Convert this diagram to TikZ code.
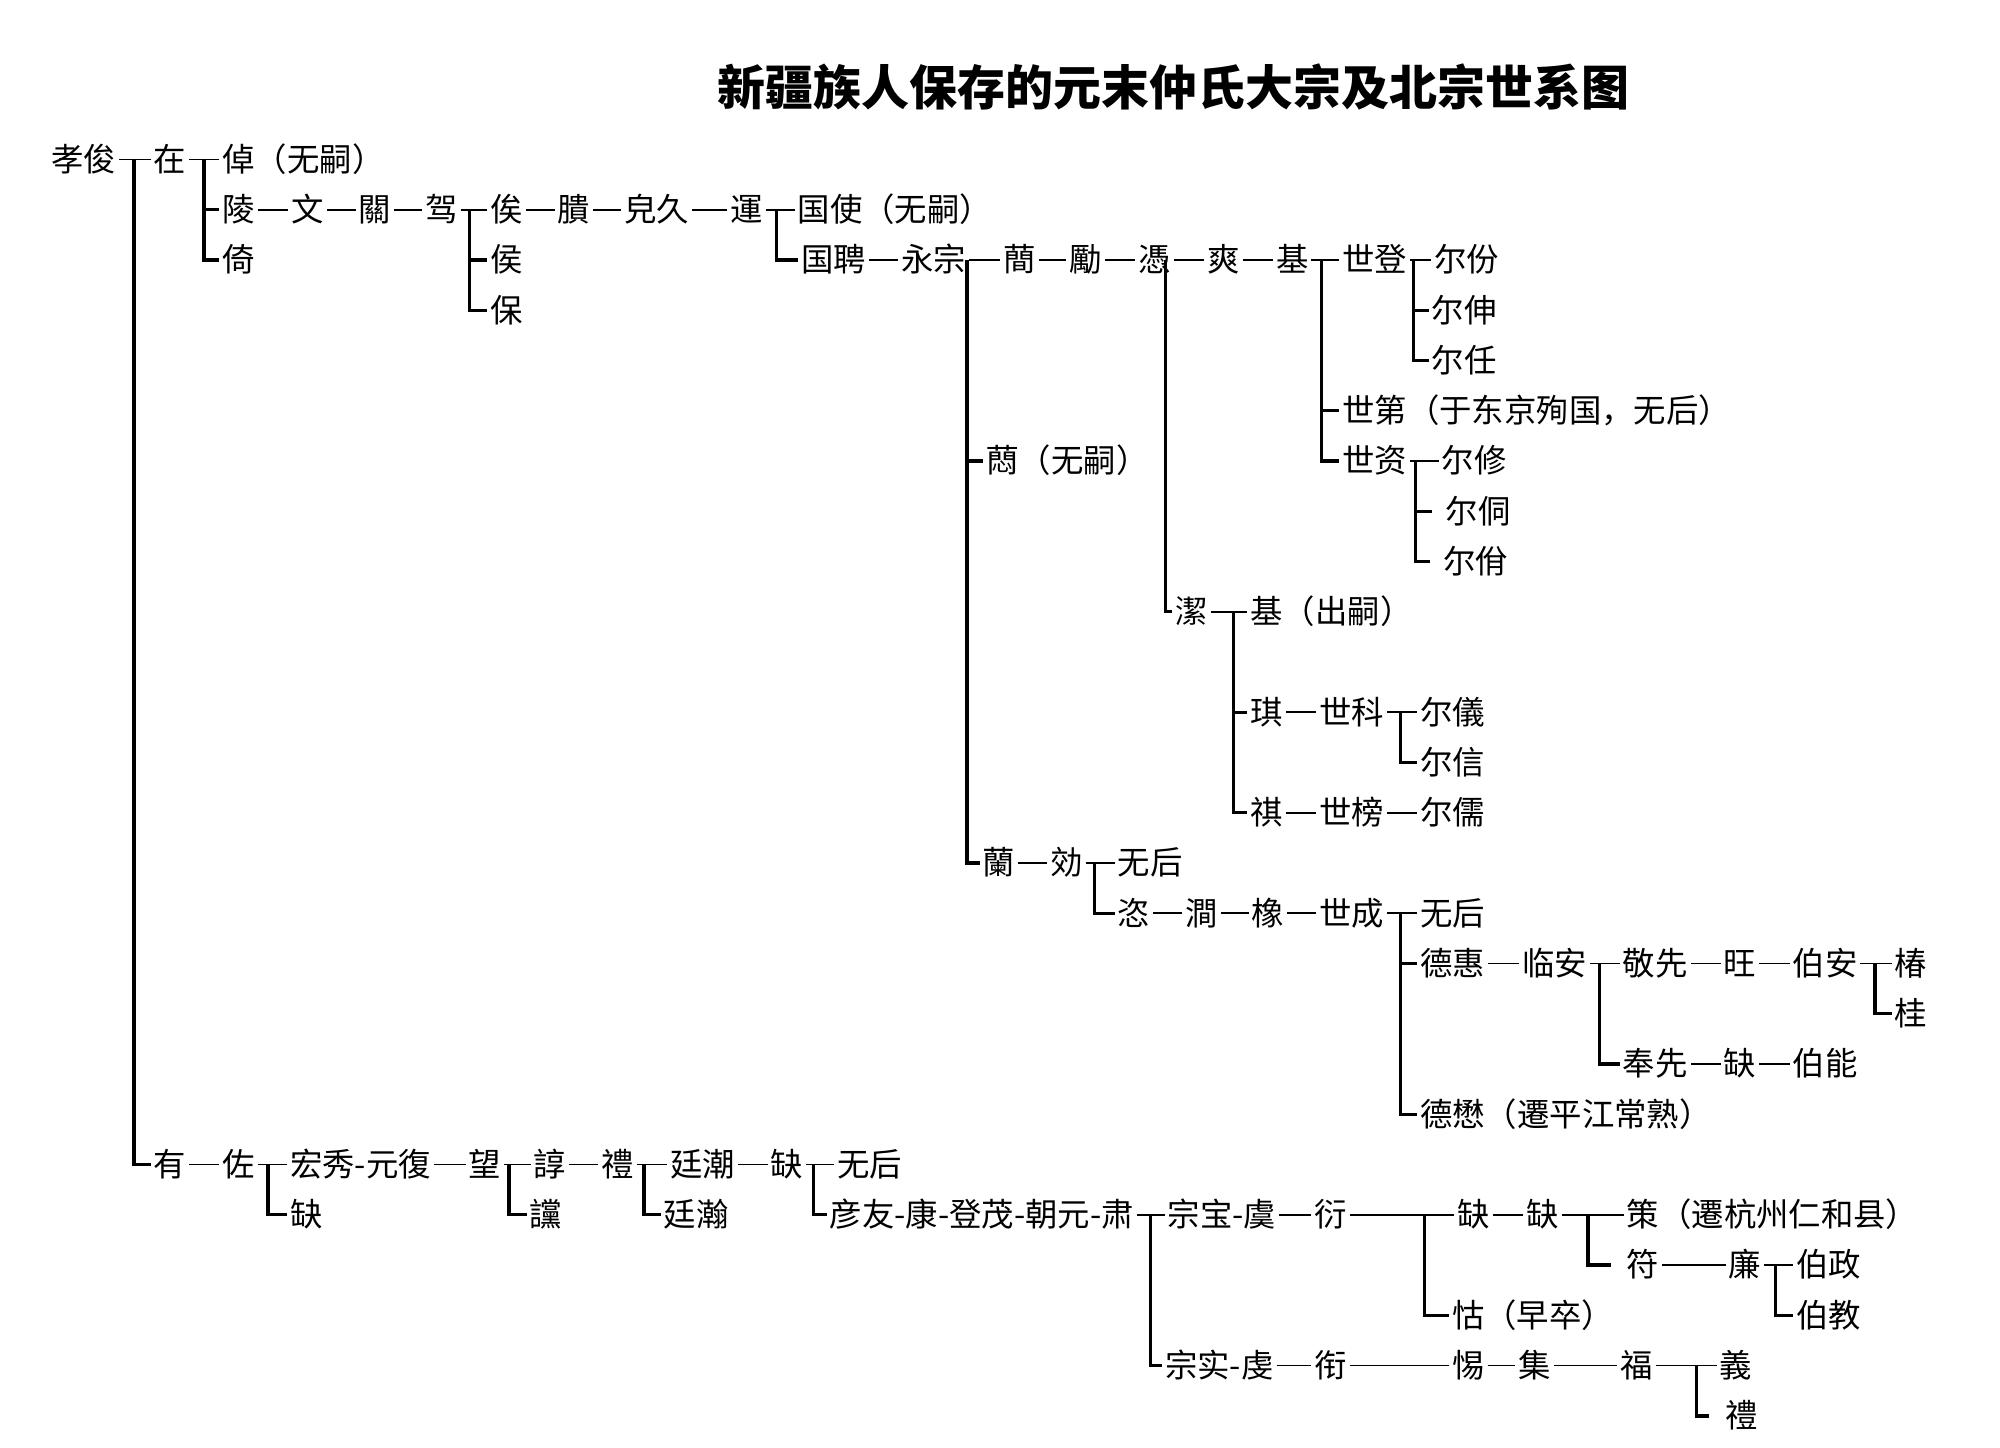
\documentclass[tikz,border=0pt]{standalone}
\usepackage{fontspec}
\newfontfamily\cjk{Noto Sans CJK SC}
\tikzset{
  person/.style={anchor=west, inner xsep=1pt, inner ysep=0pt, text height=10.8pt, text depth=1.5pt, font={\cjk\fontsize{12.7pt}{14pt}\selectfont}},
  link/.style={draw=black, line width=0.7pt},
  branch/.style={draw=black, line width=1.3pt},
  title/.style={font={\cjk\bfseries\fontsize{18.8pt}{22pt}\selectfont}},
}
\begin{document}
\begin{tikzpicture}[x=0.5pt, y=-19.7pt]
  \useasboundingbox (0,-2.173) rectangle (1568,26.634);
  \node[title] (title) at (920,-0.45) {新疆族人保存的元末仲氏大宗及北宗世系图};

  % ---- 大宗
  \node[person] (xj)    at (38,1)   {孝俊};
  \node[person] (zai)   at (118,1)  {在};
  \node[person] (zhuo)  at (172,1)  {倬（无嗣）};
  \node[person] (ling)  at (172,2)  {陵};
  \node[person] (wen)   at (226,2)  {文};
  \node[person] (guan)  at (279,2)  {關};
  \node[person] (jia)   at (331,2)  {驾};
  \node[person] (si)    at (382,2)  {俟};
  \node[person] (gui)   at (435,2)  {膭};
  \node[person] (mj)    at (487,2)  {皃久};
  \node[person] (yun)   at (570,2)  {運};
  \node[person] (gs)    at (623,2)  {国使（无嗣）};
  \node[person] (yi)    at (172,3)  {倚};
  \node[person] (hou)   at (382,3)  {侯};
  \node[person] (bao)   at (382,4)  {保};
  \node[person] (gp)    at (626,3)  {国聘};
  \node[person] (yz)    at (704,3)  {永宗};
  \node[person] (jian)  at (784,3)  {蕳};
  \node[person] (li)    at (836,3)  {勵};
  \node[person] (ping)  at (890,3)  {憑};
  \node[person] (shu)   at (944,3)  {爽};
  \node[person] (ji)    at (998,3)  {基};
  \node[person] (sd)    at (1050,3) {世登};
  \node[person] (efen)  at (1122,3) {尔份};
  \node[person] (eshen) at (1120,4) {尔伸};
  \node[person] (eren)  at (1120,5) {尔任};
  \node[person] (sdi)   at (1050,6) {世第（于东京殉国，无后）};
  \node[person] (szi)   at (1050,7) {世资};
  \node[person] (exiu)  at (1128,7) {尔修};
  \node[person] (etong) at (1131,8) {尔侗};
  \node[person] (eyi)   at (1129,9) {尔佾};
  \node[person] (min)   at (771,7)  {蕄（无嗣）};

  % ---- 潔
  \node[person] (jie)   at (919,10)  {潔};
  \node[person] (jc)    at (978,10)  {基（出嗣）};
  \node[person] (qi)    at (978,12)  {琪};
  \node[person] (sk)    at (1032,12) {世科};
  \node[person] (eyi2)  at (1111,12) {尔儀};
  \node[person] (exin)  at (1111,13) {尔信};
  \node[person] (qi2)   at (978,14)  {祺};
  \node[person] (sb)    at (1032,14) {世榜};
  \node[person] (eru)   at (1111,14) {尔儒};

  % ---- 蘭
  \node[person] (lan)   at (768,15)  {蘭};
  \node[person] (xiao)  at (821,15)  {効};
  \node[person] (wh1)   at (874,15)  {无后};
  \node[person] (zi)    at (874,16)  {恣};
  \node[person] (jian2) at (927,16)  {澗};
  \node[person] (xiang) at (979,16)  {橡};
  \node[person] (sc)    at (1032,16) {世成};
  \node[person] (wh2)   at (1111,16) {无后};
  \node[person] (dh)    at (1111,17) {德惠};
  \node[person] (la)    at (1191,17) {临安};
  \node[person] (jx)    at (1270,17) {敬先};
  \node[person] (wang)  at (1349,17) {旺};
  \node[person] (ba)    at (1403,17) {伯安};
  \node[person] (chun)  at (1483,17) {椿};
  \node[person] (gui2)  at (1483,18) {桂};
  \node[person] (fx)    at (1270,19) {奉先};
  \node[person] (que1)  at (1349,19) {缺};
  \node[person] (bn)    at (1403,19) {伯能};
  \node[person] (dm)    at (1111,20) {德懋（遷平江常熟）};

  % ---- 北宗
  \node[person] (you)   at (118,21)  {有};
  \node[person] (zuo)   at (172,21)  {佐};
  \node[person] (hx)    at (225,21)  {宏秀-元復};
  \node[person] (wang2) at (365,21)  {望};
  \node[person] (zhun)  at (416,21)  {諄};
  \node[person] (li2)   at (469,21)  {禮};
  \node[person] (tc)    at (523,21)  {廷潮};
  \node[person] (que2)  at (602,21)  {缺};
  \node[person] (wh3)   at (654,21)  {无后};
  \node[person] (que3)  at (225,22)  {缺};
  \node[person] (dang)  at (413,22)  {讜};
  \node[person] (th)    at (518,22)  {廷瀚};
  \node[person] (yy)    at (648,22)  {彦友-康-登茂-朝元-肃};
  \node[person] (zb)    at (913,22)  {宗宝-虞};
  \node[person] (yan)   at (1028,22) {衍};
  \node[person] (que4)  at (1140,22) {缺};
  \node[person] (que5)  at (1194,22) {缺};
  \node[person] (ce)    at (1273,22) {策（遷杭州仁和县）};
  \node[person] (fu)    at (1273,23) {符};
  \node[person] (lian)  at (1353,23) {廉};
  \node[person] (bz)    at (1406,23) {伯政};
  \node[person] (bj)    at (1406,24) {伯教};
  \node[person] (hu)    at (1136,24) {怙（早卒）};
  \node[person] (zs)    at (911,25)  {宗实-虔};
  \node[person] (xian)  at (1028,25) {衔};
  \node[person] (tang)  at (1136,25) {惕};
  \node[person] (ji2)   at (1188,25) {集};
  \node[person] (fu2)   at (1268,25) {福};
  \node[person] (yi2)   at (1346,25) {義};
  \node[person] (li3)   at (1350,26) {禮};

  % forks
  \coordinate (xjf)   at (105,1);
  \coordinate (zaif)  at (160,1);
  \coordinate (jiaf)  at (368,2);
  \coordinate (yunf)  at (609,2);
  \coordinate (yzf)   at (758,3);
  \coordinate (pingf) at (914,3);
  \coordinate (jif)   at (1036,3);
  \coordinate (sdf)   at (1108,3);
  \coordinate (szif)  at (1110,7);
  \coordinate (jief)  at (967,10);
  \coordinate (skf)   at (1098,12);
  \coordinate (xiaof) at (858,15);
  \coordinate (scf)   at (1098,16);
  \coordinate (laf)   at (1254,17);
  \coordinate (baf)   at (1470,17);
  \coordinate (zuof)  at (210,21);
  \coordinate (wangf) at (399,21);
  \coordinate (lif)   at (505,21);
  \coordinate (quef)  at (638,21);
  \coordinate (yyf)   at (902,22);
  \coordinate (yanf)  at (1117,22);
  \coordinate (que5f) at (1245,22);
  \coordinate (lianf) at (1392,23);
  \coordinate (fuf)   at (1330,25);

  % one line per generation step
  \draw[link] (xj.east) -- (zai.west) (zai.east) -- (zhuo.west);
  \draw[link] (ling.east) -- (wen.west) (wen.east) -- (guan.west) (guan.east) -- (jia.west) (jia.east) -- (si.west)
              (si.east) -- (gui.west) (gui.east) -- (mj.west) (mj.east) -- (yun.west) (yun.east) -- (gs.west);
  \draw[link] (gp.east) -- (yz.west) (yz.east) -- (jian.west) (jian.east) -- (li.west) (li.east) -- (ping.west)
              (ping.east) -- (shu.west) (shu.east) -- (ji.west) (ji.east) -- (sd.west) (sd.east) -- (efen.west);
  \draw[link] (szi.east) -- (exiu.west);
  \draw[link] (jie.east) -- (jc.west);
  \draw[link] (qi.east) -- (sk.west) (sk.east) -- (eyi2.west);
  \draw[link] (qi2.east) -- (sb.west) (sb.east) -- (eru.west);
  \draw[link] (lan.east) -- (xiao.west) (xiao.east) -- (wh1.west);
  \draw[link] (zi.east) -- (jian2.west) (jian2.east) -- (xiang.west) (xiang.east) -- (sc.west) (sc.east) -- (wh2.west);
  \draw[link] (dh.east) -- (la.west) (la.east) -- (jx.west) (jx.east) -- (wang.west) (wang.east) -- (ba.west) (ba.east) -- (chun.west);
  \draw[link] (fx.east) -- (que1.west) (que1.east) -- (bn.west);
  \draw[link] (you.east) -- (zuo.west) (zuo.east) -- (hx.west) (hx.east) -- (wang2.west) (wang2.east) -- (zhun.west)
              (zhun.east) -- (li2.west) (li2.east) -- (tc.west) (tc.east) -- (que2.west) (que2.east) -- (wh3.west);
  \draw[link] (yy.east) -- (zb.west) (zb.east) -- (yan.west) (yan.east) -- (que4.west) (que4.east) -- (que5.west) (que5.east) -- (ce.west);
  \draw[link] (fu.east) -- (lian.west) (lian.east) -- (bz.west);
  \draw[link] (zs.east) -- (xian.west) (xian.east) -- (tang.west) (tang.east) -- (ji2.west) (ji2.east) -- (fu2.west) (fu2.east) -- (yi2.west);

  % brothers
  \draw[branch] (xjf) |- (you.west);
  \draw[branch] (zaif) |- (yi.west);   \draw[branch] (zaif |- ling.west) -- (ling.west);
  \draw[branch] (jiaf) |- (bao.west);  \draw[branch] (jiaf |- hou.west) -- (hou.west);
  \draw[branch] (yunf) |- (gp.west);
  \draw[branch] (yzf) |- (lan.west);   \draw[branch] (yzf |- min.west) -- (min.west);
  \draw[branch] (pingf) |- (jie.west);
  \draw[branch] (jif) |- (szi.west);   \draw[branch] (jif |- sdi.west) -- (sdi.west);
  \draw[branch] (sdf) |- (eren.west);  \draw[branch] (sdf |- eshen.west) -- (eshen.west);
  \draw[branch, shorten >=4pt] (szif) |- (eyi.west);
  \draw[branch, shorten >=4pt] (szif |- etong.west) -- (etong.west);
  \draw[branch] (jief) |- (qi2.west);  \draw[branch] (jief |- qi.west) -- (qi.west);
  \draw[branch] (skf) |- (exin.west);
  \draw[branch] (xiaof) |- (zi.west);
  \draw[branch] (scf) |- (dm.west);    \draw[branch] (scf |- dh.west) -- (dh.west);
  \draw[branch] (laf) |- (fx.west);
  \draw[branch] (baf) |- (gui2.west);
  \draw[branch] (zuof) |- (que3.west);
  \draw[branch] (wangf) |- (dang.west);
  \draw[branch] (lif) |- (th.west);
  \draw[branch] (quef) |- (yy.west);
  \draw[branch] (yyf) |- (zs.west);
  \draw[branch] (yanf) |- (hu.west);
  \draw[branch, shorten >=5pt] (que5f) |- (fu.west);
  \draw[branch] (lianf) |- (bj.west);
  \draw[branch, shorten >=5pt] (fuf) |- (li3.west);
\end{tikzpicture}
\end{document}
